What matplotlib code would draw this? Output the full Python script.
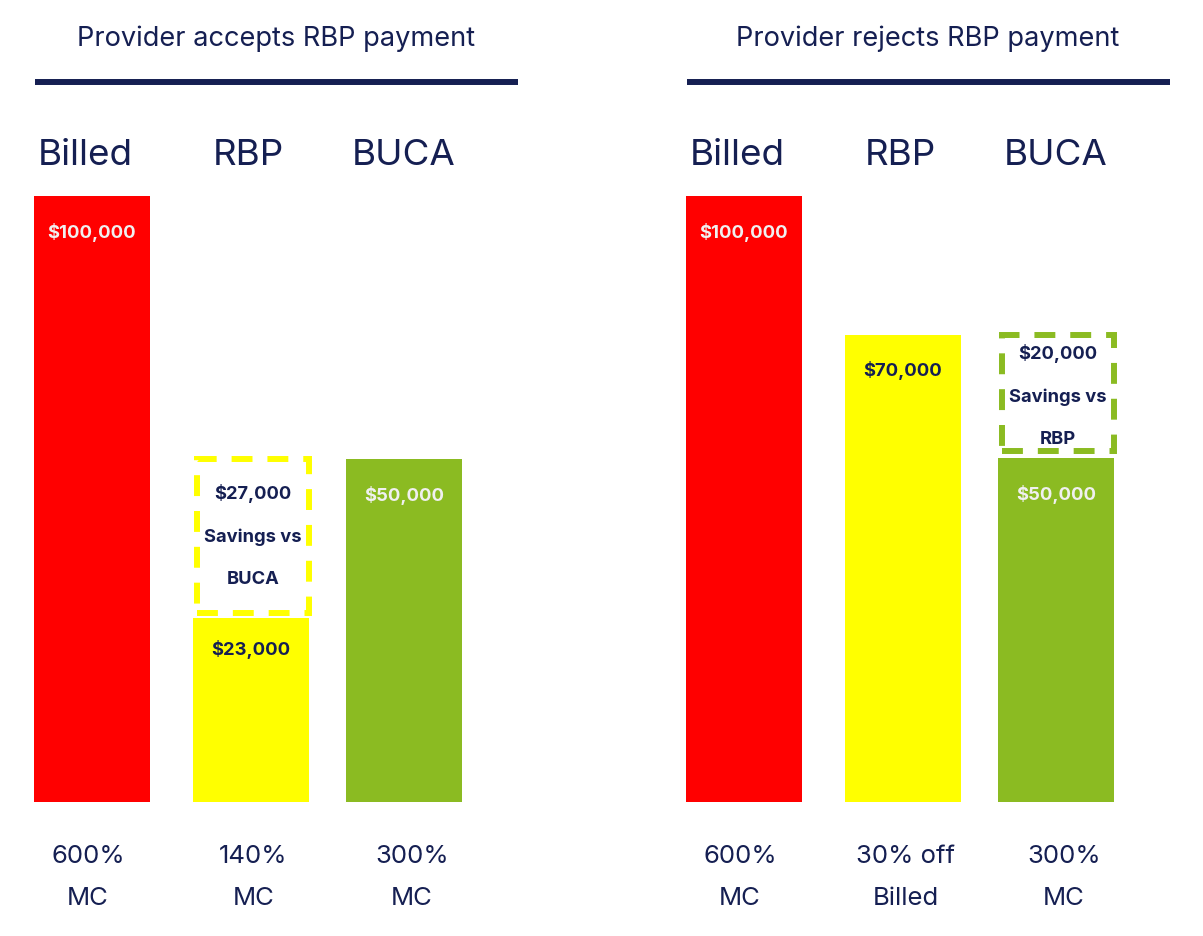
import matplotlib
matplotlib.use("Agg")
import matplotlib.pyplot as plt
from matplotlib.patches import Rectangle
from matplotlib.lines import Line2D

plt.rcParams['font.family'] = ['Inter', 'DejaVu Sans']

# ---- data ----
categories = ["Billed", "RBP", "BUCA"]
panel_titles = ["Provider accepts RBP payment", "Provider rejects RBP payment"]
accept_values = [100000, 23000, 50000]
reject_values = [100000, 70000, 50000]
# bar heights as drawn in the picture (not to scale with the values)
accept_heights = [100, 30.4, 56.6]
reject_heights = [100, 77.1, 56.8]
accept_basis = ["600%\nMC", "140%\nMC", "300%\nMC"]
reject_basis = ["600%\nMC", "30% off\nBilled", "300%\nMC"]
accept_savings = 27000
reject_savings = 20000
accept_savings_text = "Savings vs\nBUCA"
reject_savings_text = "Savings vs\nRBP"

# ---- style ----
NAVY = "#151F52"
RED = "#FF0000"
YELLOW = "#FFFF00"
GREEN = "#8BBB22"
LIGHT = "#F0F0F0"
bar_colors = [RED, YELLOW, GREEN]
label_colors = [LIGHT, NAVY, LIGHT]
bar_dx = [0.0, 0.017, 0.0]           # small layout nudges (axis units)
basis_dx = [-0.026, 0.035, 0.052]    # bottom label nudges (axis units)

W, H = 1203, 936
fig = plt.figure(figsize=(W / 100, H / 100), dpi=100)

def fx(px):
    return px / W

def fy(py):
    return 1 - py / H

bottom_px, top_px = 802, 196
spacing = 156
panels = [
    dict(center0=92, values=accept_values, heights=accept_heights, basis=accept_basis,
         title=panel_titles[0], title_x=276, line=(35, 518),
         box_idx=1, box_lo=accept_heights[1] + 0.8, box_hi=accept_heights[2],
         box_color=YELLOW, savings=accept_savings, savings_text=accept_savings_text,
         box_shift=0.03, text_dy=0.0, label_dy=[-26.5, -22.5, -26.5]),
    dict(center0=744, values=reject_values, heights=reject_heights, basis=reject_basis,
         title=panel_titles[1], title_x=928, line=(687, 1170),
         box_idx=2, box_lo=reject_heights[2] + 1.1, box_hi=reject_heights[1],
         box_color=GREEN, savings=reject_savings, savings_text=reject_savings_text,
         box_shift=0.01, text_dy=-0.5, label_dy=[-26.5, -25.5, -26.5]),
]

for p in panels:
    left_px = p["center0"] - spacing / 2
    ax = fig.add_axes([fx(left_px), fy(bottom_px), fx(3 * spacing), (bottom_px - top_px) / H])
    ax.set_xlim(-0.5, 2.5)
    ax.set_ylim(0, 100)
    ax.axis("off")
    x = [i + d for i, d in enumerate(bar_dx)]
    ax.bar(x, p["heights"], width=116 / spacing, color=bar_colors, zorder=2)

    for i, (v, h) in enumerate(zip(p["values"], p["heights"])):
        ax.annotate(f"${v:,.0f}", xy=(x[i], h), xytext=(0, p["label_dy"][i]),
                    textcoords="offset points",
                    ha="center", va="center", fontsize=13.3, fontweight="bold",
                    color=label_colors[i], zorder=3)
        ax.text(i - (0.04 if i == 0 else 0), 106.7, categories[i], ha="center", va="center",
                fontsize=26.5, color=NAVY, clip_on=False)
        ax.text(i + basis_dx[i], -12.4, p["basis"][i], ha="center", va="center",
                fontsize=18.5, color=NAVY, linespacing=2.05, clip_on=False)

    bi = p["box_idx"]
    bw = 112 / spacing
    rect = Rectangle((bi - bw / 2 + p["box_shift"], p["box_lo"]), bw, p["box_hi"] - p["box_lo"],
                     fill=False, edgecolor=p["box_color"], linewidth=4.3,
                     linestyle=(0, (3.5, 2.5)), zorder=3, clip_on=False)
    ax.add_patch(rect)
    ymid = (p["box_lo"] + p["box_hi"]) / 2 + p["text_dy"]
    ax.text(bi + p["box_shift"], ymid, f"${p['savings']:,.0f}\n" + p["savings_text"],
            ha="center", va="center", fontsize=13.2, fontweight="bold", color=NAVY,
            linespacing=2.9, zorder=4)

    fig.text(fx(p["title_x"]), fy(39), p["title"], ha="center", va="center",
             fontsize=19.6, color=NAVY)
    fig.add_artist(Line2D([fx(p["line"][0]), fx(p["line"][1])], [fy(82), fy(82)],
                          color=NAVY, linewidth=4.3, solid_capstyle="butt"))

fig.savefig("out.png", dpi=100, facecolor="white")
